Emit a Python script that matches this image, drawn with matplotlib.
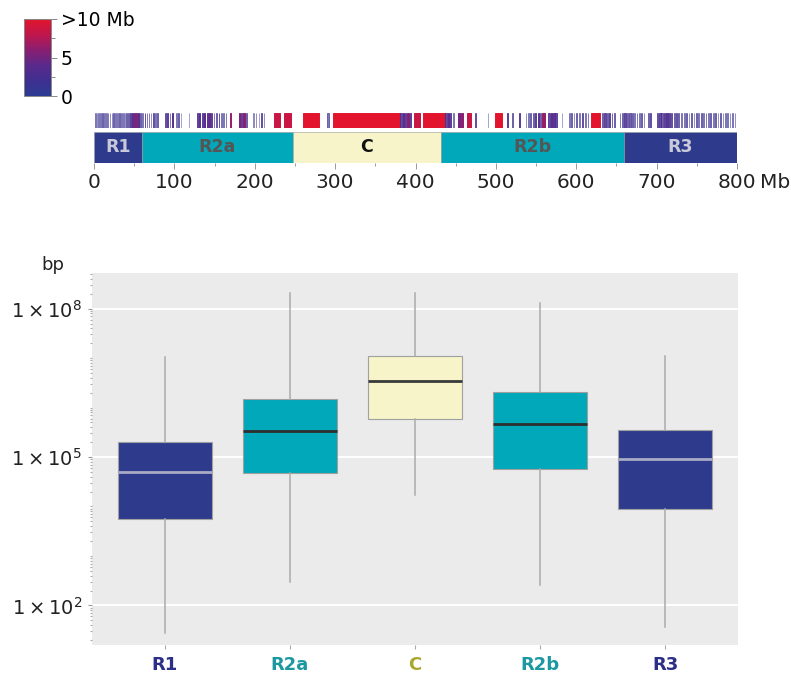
import numpy as np
import matplotlib
matplotlib.use("Agg")
import matplotlib.pyplot as plt
from matplotlib.colors import LinearSegmentedColormap, Normalize
from matplotlib.cm import ScalarMappable
from matplotlib.ticker import FixedLocator, LogLocator, NullFormatter, FuncFormatter

# ---------------- data ----------------
# chromosome regions (Mb)
region_names = ["R1", "R2a", "C", "R2b", "R3"]
region_start = [0, 60, 247, 432, 659]
region_end = [60, 247, 432, 659, 800]

# gaps along the chromosome: start (Mb), length (Mb), size value for colour (Mb, capped at 10)
gap_start = [1.5, 3.5, 5.5, 8, 10, 12.5, 15, 17, 19.5, 22, 24, 26.5, 29, 31, 33.5, 36, 38,
             40, 42.5, 45, 47.5, 50, 52.5, 55, 57.5, 60, 63, 65.5,
             68, 70.5, 73, 76, 79,
             88, 91, 94, 97, 102, 105, 108, 118,
             128, 131, 134, 137, 140, 143, 146, 149, 152, 155,
             158, 161, 164, 169, 180, 183, 186, 189,
             198, 201, 205, 208, 211,
             224, 237, 260, 290, 297,
             381, 384, 387, 390, 393, 398, 409,
             437, 440, 443, 447, 453, 457, 464, 474, 490, 499, 514, 520, 529,
             537, 540, 543, 546, 549, 552, 555, 558, 565, 568, 571, 574, 582,
             591, 594, 597, 600, 604, 607, 611, 614, 618,
             632, 635, 638, 641, 644, 647,
             654, 657, 660, 663, 666, 669, 672, 675, 678, 681, 684, 689, 692,
             700, 703, 706, 709, 712, 715, 718, 721, 724, 727, 730,
             734, 737, 740, 743, 746, 749, 752, 755, 758, 761, 764, 767, 770, 773,
             776, 779, 782, 785, 788, 791, 794, 797]
gap_len = [0.8, 0.8, 0.8, 0.8, 1.2, 0.8, 0.8, 1.0, 0.8, 0.8, 1.0, 0.8, 0.8, 1.0, 0.8, 0.8, 0.8,
           1.2, 1.2, 1.5, 1.5, 1.5, 1.5, 1.2, 1.0, 0.8, 1.0, 0.8,
           1.0, 0.8, 1.2, 0.8, 1.0,
           1.5, 1.5, 1.0, 1.5, 0.8, 1.0, 0.6, 0.6,
           1.5, 1.5, 2.0, 1.5, 2.0, 1.5, 1.0, 0.8, 0.8, 1.0,
           0.8, 0.8, 0.8, 2.0, 1.5, 1.0, 1.5, 0.8,
           0.7, 0.7, 0.7, 1.0, 0.7,
           7, 8, 20, 2, 84,
           2, 2, 1.5, 2, 1, 7, 28,
           2, 2, 1.5, 1, 2, 2, 5.5, 1.5, 0.7, 9, 1.2, 1.2, 1.5,
           0.8, 0.8, 1.0, 1.0, 1.5, 1.5, 1.0, 3.0, 2.0, 2.0, 2.0, 1.5, 0.7,
           0.8, 1.0, 0.8, 1.0, 0.8, 1.2, 0.8, 1.0, 11,
           1.0, 1.5, 1.0, 1.5, 1.0, 1.0,
           1.0, 1.0, 1.5, 1.0, 1.5, 1.0, 0.8, 1.0, 0.8, 1.0, 0.8, 1.0, 1.2,
           2.0, 2.0, 2.0, 2.0, 2.0, 2.0, 1.5, 1.5, 1.5, 1.2, 1.0,
           0.8, 1.0, 0.8, 1.0, 0.8, 1.0, 0.8, 1.0, 0.8, 1.0, 0.8, 1.0, 0.8, 1.0,
           0.8, 1.0, 0.8, 0.8, 0.8, 0.8, 0.8, 0.8]
gap_size = [1.5, 1.5, 1.5, 1.5, 2, 1.5, 1.5, 2, 1.5, 1.5, 2, 1.5, 1.5, 2, 1.5, 1.5, 1.5,
            2, 2, 3, 4, 5, 5.5, 4, 2, 1.5, 3, 2,
            2, 1.5, 2.5, 1.5, 2,
            2.5, 3, 2, 3.5, 1.5, 2, 1, 1,
            3, 3.5, 3, 4, 3.5, 4.5, 3, 2, 2, 3,
            1.5, 1.5, 2, 6.5, 5.5, 3, 6, 2,
            1, 1.5, 1, 2.5, 1.5,
            8.5, 8.5, 10, 2, 10,
            3, 4, 3, 6, 3, 8.5, 10,
            3, 4, 3, 1.5, 5, 6, 8.5, 2.5, 1, 10, 3, 2, 3,
            1.5, 1.5, 2, 2, 3, 3.5, 2, 6.5, 3, 4, 3.5, 3, 1,
            1.5, 2, 1.5, 2, 1.5, 2.5, 1.5, 2, 10,
            2, 3, 2, 3, 2.5, 2,
            2, 2, 3, 2, 2.5, 2, 1.5, 2, 1.5, 2, 1.5, 2, 2.5,
            2.5, 3, 2.5, 3, 3.5, 3, 2.5, 2, 2.5, 2, 1.5,
            1.5, 2, 1.5, 2, 1.5, 2, 1.5, 2, 1.5, 2, 1.5, 2, 1.5, 2,
            1.5, 2, 1.5, 1.5, 1.5, 1.5, 1.5, 1.5]

# interval-length distributions per region (log10 bp)
box_whislo = [1.44, 2.47, 4.23, 2.41, 1.57]
box_q1 = [3.75, 4.68, 5.77, 4.76, 3.95]
box_med = [4.70, 5.53, 6.54, 5.67, 4.96]
box_q3 = [5.30, 6.17, 7.04, 6.31, 5.55]
box_whishi = [7.02, 8.31, 8.31, 8.11, 7.04]

# ---------------- styles ----------------
NAVY = "#2E3A8C"
TEAL = "#00A8B9"
CREAM = "#F6F4C8"
region_fill = [NAVY, TEAL, CREAM, TEAL, NAVY]
region_text = ["#C9CAD9", "#555555", "#111111", "#555555", "#C9CAD9"]
label_colors = ["#2B2F86", "#1B98A0", "#A9A62C", "#1B98A0", "#2B2F86"]
median_colors = ["#A9ABC6", "#2E2E2E", "#3A3A3A", "#2E2E2E", "#A9ABC6"]

gap_cmap = LinearSegmentedColormap.from_list(
    "gap", ["#2C3B93", "#3F2F90", "#5A2A8C", "#8A1F70", "#C0164C", "#E3152E"])
gap_norm = Normalize(0, 10)

plt.rcParams["font.family"] = ["DejaVu Sans"]
W, H = 791, 681
fig = plt.figure(figsize=(W / 100, H / 100), dpi=100)


def box(x0, y0, x1, y1):
    return [x0 / W, 1 - y1 / H, (x1 - x0) / W, (y1 - y0) / H]


# ---------------- colour key ----------------
cax = fig.add_axes(box(24, 19, 51, 96))
sm = ScalarMappable(norm=gap_norm, cmap=gap_cmap)
cb = fig.colorbar(sm, cax=cax, ticks=[0, 5, 10])
cb.ax.set_yticklabels(["0", "5", ">10 Mb"])
cb.ax.yaxis.set_minor_locator(FixedLocator([2.5, 7.5]))
cb.ax.tick_params(which="major", length=4, width=0.7, color="#888888", labelsize=13.5, pad=3)
cb.ax.tick_params(which="minor", length=3, width=0.7, color="#888888")
cb.outline.set_edgecolor("#888888")
cb.outline.set_linewidth(0.7)

# ---------------- gap strip ----------------
hax = fig.add_axes(box(94, 113, 737, 128))
sizes = np.minimum(np.array(gap_size, dtype=float), 10)
# faint stripes for small gaps, solid ones for large gaps
alphas = np.clip(0.25 + sizes / 5.0, 0.35, 1.0)
colors = gap_cmap(gap_norm(sizes))
colors[:, 3] = alphas
hax.bar(gap_start, [1] * len(gap_start), width=gap_len, align="edge",
        color=colors, edgecolor=colors, linewidth=0.7)
hax.set_xlim(0, 800)
hax.set_ylim(0, 1)
hax.axis("off")

# ---------------- region bar ----------------
rax = fig.add_axes(box(94, 132, 737, 163))
widths = [e - s for s, e in zip(region_start, region_end)]
rax.barh([0.5] * len(region_names), widths, left=region_start, height=1,
         color=region_fill, edgecolor="#9a9a9a", linewidth=0.4)
for s, e, name, tc in zip(region_start, region_end, region_names, region_text):
    rax.text((s + e) / 2, 0.5, name, ha="center", va="center",
             fontsize=12.5, fontweight="bold", color=tc)
rax.set_xlim(0, 800)
rax.set_ylim(0, 1)
for sp in rax.spines.values():
    sp.set_visible(False)
rax.set_yticks([])
rax.set_xticks(range(0, 801, 100))
rax.xaxis.set_minor_locator(FixedLocator(range(50, 800, 100)))
rax.tick_params(axis="x", which="major", length=4, width=0.7, color="#999999",
                labelsize=14.5, labelcolor="#222222", pad=3)
rax.tick_params(axis="x", which="minor", length=2.5, width=0.7, color="#999999")
fig.text(760 / W, 1 - 183 / H, "Mb", fontsize=14.5, color="#222222",
         ha="left", va="center")

# ---------------- box plot ----------------
bax = fig.add_axes(box(92, 273, 738, 645))
bax.set_facecolor("#EBEBEB")
stats = []
for i, name in enumerate(region_names):
    stats.append(dict(label=name,
                      whislo=10 ** box_whislo[i], q1=10 ** box_q1[i],
                      med=10 ** box_med[i], q3=10 ** box_q3[i],
                      whishi=10 ** box_whishi[i], fliers=[]))
pos = np.arange(len(region_names))
art = bax.bxp(stats, positions=pos, widths=0.75, patch_artist=True,
              showcaps=False, showfliers=False,
              whiskerprops=dict(color="#AAAAAA", linewidth=1.1),
              boxprops=dict(linewidth=0.8),
              medianprops=dict(linewidth=2.0))
for patch, fc in zip(art["boxes"], region_fill):
    patch.set_facecolor(fc)
    patch.set_edgecolor("#A0A0A0")
for med, mc in zip(art["medians"], median_colors):
    med.set_color(mc)

bax.set_yscale("log")
bax.set_ylim(10 ** 1.20, 10 ** 8.72)
bax.set_xlim(-0.58, 4.58)
bax.yaxis.set_major_locator(FixedLocator([1e2, 1e5, 1e8]))
bax.yaxis.set_major_formatter(FuncFormatter(
    lambda v, p: r"$1\times10^{%d}$" % round(np.log10(v))))
bax.yaxis.set_minor_locator(LogLocator(base=10, subs=np.arange(1, 10), numticks=30))
bax.yaxis.set_minor_formatter(NullFormatter())
bax.grid(axis="y", which="major", color="white", linewidth=1.4)
bax.set_axisbelow(True)
for sp in bax.spines.values():
    sp.set_visible(False)
bax.tick_params(axis="y", which="major", length=3, width=0.8, color="#999999",
                labelsize=14, labelcolor="#222222", pad=4)
bax.tick_params(axis="y", which="minor", length=1.5, width=0.8, color="#aaaaaa")
bax.set_xticks(pos)
bax.set_xticklabels(region_names)
bax.tick_params(axis="x", length=3, width=0.8, color="#aaaaaa", labelsize=13, pad=5)
for lbl, c in zip(bax.get_xticklabels(), label_colors):
    lbl.set_color(c)
    lbl.set_fontweight("bold")
fig.text(53 / W, 1 - 265 / H, "bp", fontsize=13, color="#222222",
         ha="center", va="center")

fig.savefig("out.png", dpi=100, facecolor="white")
